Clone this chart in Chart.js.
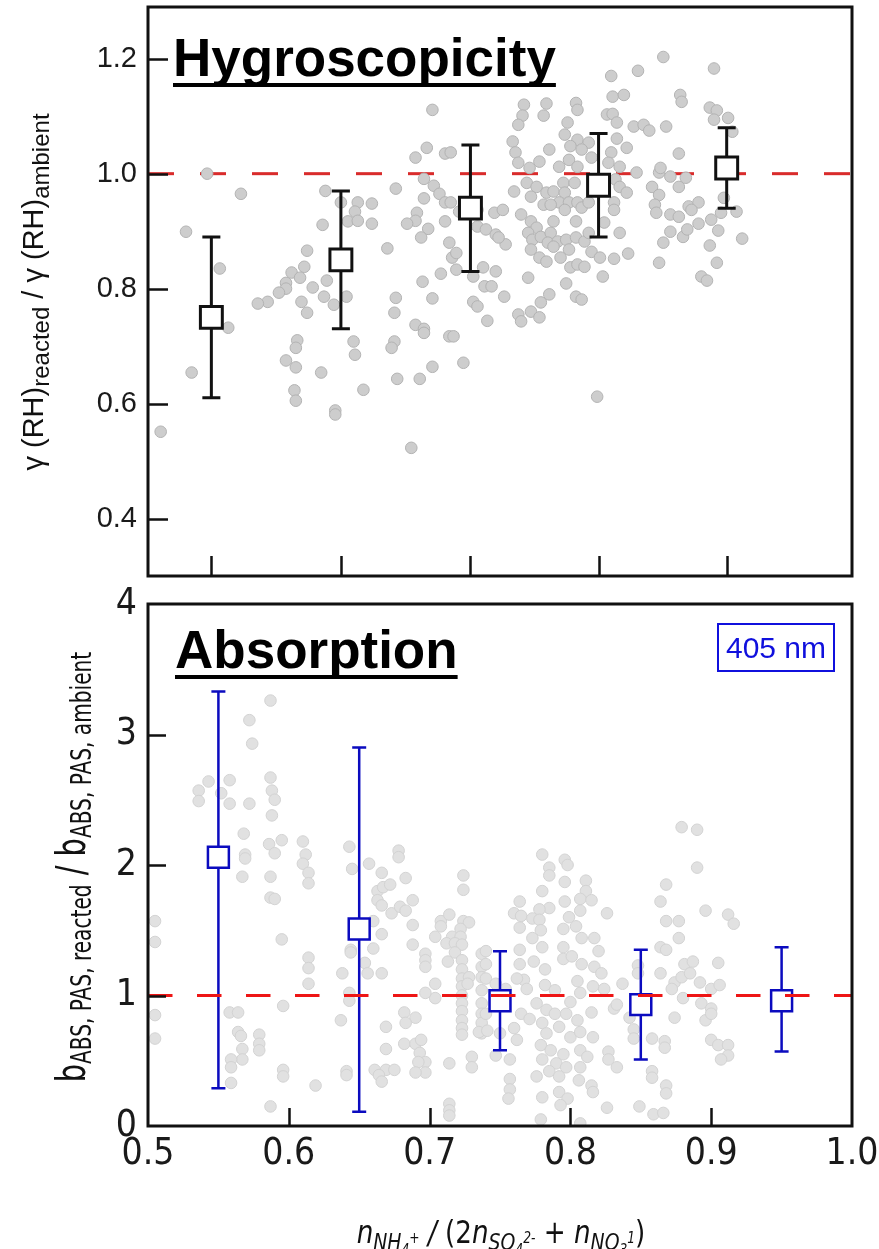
<!DOCTYPE html>
<html>
<head>
<meta charset="utf-8">
<script src="https://cdn.jsdelivr.net/npm/chart.js@4.4.1/dist/chart.umd.min.js"></script>
<style>
  body { margin: 0; background: #fff; }
  #wrap { position: relative; width: 879px; height: 1249px; overflow: hidden; }
  canvas { position: absolute; left: 0; }
</style>
</head>
<body>
<div id="wrap">
  <canvas id="hygro" width="879" height="590" style="top:0"></canvas>
  <canvas id="absorb" width="879" height="689" style="top:560px"></canvas>
</div>
<script>
// ---- top panel: hygroscopicity ----
const topBinX = [0.545, 0.637, 0.729, 0.820, 0.911];
const topMean = [0.75, 0.85, 0.94, 0.98, 1.01];
const topLow  = [0.61, 0.73, 0.83, 0.89, 0.94];
const topHigh = [0.89, 0.97, 1.05, 1.07, 1.08];
const topYTicks = [0.4, 0.6, 0.8, 1.0, 1.2];

const topPoints = [
  [0.702,1.111],[0.698,1.045],[0.711,1.035],[0.690,1.028],[0.542,1.000],[0.566,0.965],[0.626,0.970],[0.676,0.974],
  [0.696,0.991],[0.703,0.979],[0.707,0.965],[0.711,0.950],[0.696,0.957],[0.691,0.932],[0.690,0.918],[0.684,0.913],
  [0.699,0.904],[0.694,0.889],[0.711,0.917],[0.637,0.950],[0.649,0.950],[0.659,0.948],[0.647,0.934],[0.642,0.917],
  [0.649,0.918],[0.659,0.913],[0.624,0.911],[0.527,0.899],[0.670,0.870],[0.714,0.880],[0.716,0.854],[0.708,0.826],
  [0.695,0.812],[0.702,0.783],[0.551,0.835],[0.557,0.732],[0.613,0.866],[0.611,0.838],[0.602,0.828],[0.608,0.819],
  [0.598,0.810],[0.598,0.800],[0.593,0.793],[0.585,0.777],[0.578,0.774],[0.617,0.802],[0.627,0.814],[0.625,0.786],
  [0.632,0.772],[0.641,0.786],[0.609,0.777],[0.613,0.758],[0.676,0.784],[0.675,0.758],[0.690,0.737],[0.696,0.730],
  [0.696,0.723],[0.714,0.717],[0.606,0.710],[0.605,0.697],[0.646,0.708],[0.647,0.685],[0.675,0.708],[0.673,0.697],
  [0.598,0.675],[0.605,0.663],[0.623,0.654],[0.531,0.654],[0.702,0.664],[0.677,0.643],[0.693,0.643],[0.653,0.624],
  [0.604,0.623],[0.605,0.605],[0.633,0.588],[0.633,0.581],[0.509,0.551],[0.687,0.523],
  [0.866,1.203],[0.902,1.183],[0.848,1.179],[0.829,1.170],[0.830,1.134],[0.838,1.137],[0.878,1.137],[0.879,1.125],
  [0.826,1.103],[0.830,1.104],[0.833,1.089],[0.845,1.082],[0.852,1.085],[0.856,1.075],[0.868,1.082],[0.899,1.115],
  [0.904,1.110],[0.902,1.094],[0.912,1.097],[0.915,1.073],[0.767,1.120],[0.783,1.122],[0.766,1.101],[0.781,1.101],
  [0.763,1.085],[0.804,1.123],[0.805,1.111],[0.798,1.089],[0.796,1.068],[0.805,1.059],[0.813,1.054],[0.800,1.048],
  [0.808,1.042],[0.829,1.037],[0.833,1.061],[0.840,1.045],[0.759,1.056],[0.761,1.037],[0.763,1.019],[0.785,1.042],
  [0.778,1.021],[0.771,1.010],[0.792,1.012],[0.799,1.024],[0.805,1.012],[0.815,1.028],[0.827,1.019],[0.835,1.012],
  [0.847,1.002],[0.863,1.002],[0.864,1.010],[0.877,1.035],[0.882,0.993],[0.871,0.995],[0.877,0.977],[0.769,0.984],
  [0.776,0.977],[0.760,0.969],[0.772,0.960],[0.783,0.967],[0.788,0.969],[0.795,0.984],[0.803,0.984],[0.796,0.967],
  [0.792,0.950],[0.799,0.950],[0.805,0.950],[0.781,0.946],[0.786,0.946],[0.796,0.937],[0.808,0.941],[0.813,0.950],
  [0.832,0.990],[0.835,0.977],[0.840,0.967],[0.831,0.950],[0.831,0.937],[0.858,0.977],[0.863,0.963],[0.860,0.946],
  [0.861,0.932],[0.871,0.929],[0.877,0.925],[0.884,0.943],[0.891,0.950],[0.886,0.937],[0.900,0.920],[0.909,0.958],
  [0.907,0.932],[0.918,0.934],[0.721,0.934],[0.734,0.937],[0.746,0.932],[0.752,0.937],[0.734,0.908],[0.740,0.903],
  [0.747,0.894],[0.754,0.877],[0.749,0.889],[0.765,0.929],[0.772,0.917],[0.776,0.906],[0.770,0.897],[0.773,0.885],
  [0.779,0.890],[0.788,0.917],[0.786,0.897],[0.784,0.880],[0.791,0.882],[0.797,0.885],[0.804,0.889],[0.804,0.917],
  [0.810,0.882],[0.813,0.897],[0.824,0.915],[0.772,0.868],[0.778,0.854],[0.783,0.847],[0.788,0.873],[0.793,0.854],
  [0.799,0.868],[0.800,0.837],[0.805,0.842],[0.810,0.838],[0.815,0.864],[0.821,0.854],[0.831,0.852],[0.835,0.897],
  [0.841,0.861],[0.823,0.821],[0.863,0.845],[0.866,0.880],[0.871,0.899],[0.880,0.890],[0.883,0.903],[0.891,0.913],
  [0.899,0.875],[0.905,0.901],[0.904,0.845],[0.893,0.821],[0.897,0.814],[0.922,0.887],[0.719,0.862],[0.719,0.833],
  [0.731,0.821],[0.738,0.837],[0.747,0.830],[0.739,0.804],[0.744,0.804],[0.753,0.786],[0.731,0.777],[0.734,0.769],
  [0.741,0.744],[0.763,0.755],[0.765,0.743],[0.772,0.760],[0.778,0.750],[0.779,0.776],[0.785,0.790],[0.770,0.819],
  [0.797,0.809],[0.804,0.786],[0.808,0.781],[0.717,0.717],[0.724,0.671],[0.819,0.612],[0.715,1.037],[0.715,0.950]
];

// ---- bottom panel: absorption ----
const botBinX = [0.55, 0.65, 0.75, 0.85, 0.95];
const botMean = [2.06, 1.51, 0.96, 0.93, 0.96];
const botLow  = [0.29, 0.11, 0.58, 0.51, 0.57];
const botHigh = [3.33, 2.90, 1.34, 1.35, 1.37];
const botYTicks = [0, 1, 2, 3, 4];
const botXTicks = [0.5, 0.6, 0.7, 0.8, 0.9, 1.0];

const botPoints = [
  [0.587,3.26],[0.572,3.11],[0.574,2.93],[0.536,2.57],[0.543,2.64],[0.536,2.49],[0.552,2.55],[0.558,2.65],
  [0.558,2.47],[0.572,2.47],[0.587,2.67],[0.588,2.57],[0.590,2.50],[0.588,2.38],[0.568,2.24],[0.569,2.08],
  [0.569,2.05],[0.567,1.91],[0.586,2.16],[0.590,2.09],[0.595,2.19],[0.587,1.91],[0.587,1.75],[0.590,1.74],
  [0.610,2.18],[0.612,2.08],[0.610,2.01],[0.614,1.94],[0.614,1.86],[0.505,1.57],[0.505,1.41],[0.595,1.43],
  [0.614,1.29],[0.614,1.21],[0.614,1.09],[0.505,0.85],[0.505,0.67],[0.558,0.87],[0.564,0.87],[0.596,0.92],
  [0.564,0.72],[0.566,0.69],[0.567,0.59],[0.567,0.51],[0.559,0.51],[0.559,0.45],[0.579,0.70],[0.579,0.63],
  [0.579,0.58],[0.559,0.33],[0.596,0.43],[0.596,0.38],[0.619,0.31],[0.587,0.15],[0.643,2.14],[0.645,1.97],
  [0.657,2.01],[0.678,2.11],[0.678,2.06],[0.666,1.94],[0.683,1.90],[0.663,1.80],[0.667,1.83],[0.672,1.85],
  [0.663,1.73],[0.666,1.69],[0.673,1.63],[0.679,1.68],[0.683,1.65],[0.688,1.73],[0.688,1.54],[0.688,1.39],
  [0.660,1.57],[0.666,1.47],[0.660,1.36],[0.644,1.35],[0.644,1.33],[0.654,1.25],[0.656,1.17],[0.666,1.17],
  [0.638,1.17],[0.643,1.02],[0.643,0.96],[0.637,0.81],[0.669,0.76],[0.682,0.87],[0.690,0.83],[0.683,0.79],
  [0.669,0.59],[0.682,0.63],[0.690,0.63],[0.694,0.66],[0.693,0.56],[0.697,0.49],[0.692,0.49],[0.697,0.41],
  [0.690,0.41],[0.661,0.43],[0.669,0.43],[0.675,0.43],[0.664,0.39],[0.666,0.34],[0.641,0.42],[0.641,0.39],
  [0.697,1.32],[0.697,1.27],[0.697,1.22],[0.704,1.45],[0.708,1.57],[0.708,1.53],[0.714,1.62],[0.724,1.92],
  [0.724,1.81],[0.724,1.57],[0.728,1.56],[0.722,1.51],[0.716,1.45],[0.712,1.40],[0.722,1.45],[0.718,1.40],
  [0.723,1.39],[0.718,1.33],[0.713,1.26],[0.723,1.27],[0.723,1.20],[0.723,1.13],[0.728,1.14],[0.723,1.07],
  [0.727,1.09],[0.723,1.00],[0.723,0.94],[0.723,0.88],[0.723,0.81],[0.723,0.75],[0.723,0.70],[0.704,1.09],
  [0.704,0.98],[0.697,1.02],[0.714,0.48],[0.730,0.53],[0.730,0.45],[0.714,0.17],[0.714,0.12],[0.714,0.08],
  [0.737,1.32],[0.737,1.22],[0.737,1.14],[0.737,1.04],[0.737,0.94],[0.737,0.86],[0.737,0.79],[0.737,0.71],
  [0.735,0.72],
  [0.879,2.29],[0.890,2.27],[0.890,1.98],[0.868,1.85],[0.864,1.72],[0.896,1.65],[0.912,1.62],[0.916,1.55],
  [0.868,1.57],[0.877,1.57],[0.877,1.44],[0.864,1.37],[0.868,1.35],[0.905,1.25],[0.881,1.24],[0.887,1.26],
  [0.864,1.17],[0.848,1.23],[0.848,1.17],[0.874,1.10],[0.879,1.14],[0.885,1.17],[0.892,1.10],[0.900,1.05],
  [0.906,1.08],[0.872,1.05],[0.880,0.98],[0.893,0.94],[0.900,0.90],[0.896,0.81],[0.900,0.86],[0.874,0.83],
  [0.842,0.83],[0.845,0.74],[0.845,0.67],[0.858,0.67],[0.867,0.65],[0.867,0.60],[0.900,0.66],[0.905,0.62],
  [0.912,0.62],[0.912,0.54],[0.907,0.51],[0.858,0.42],[0.858,0.37],[0.868,0.31],[0.868,0.25],[0.849,0.15],
  [0.859,0.09],[0.866,0.10],[0.826,0.14],[0.833,0.45],[0.827,0.57],[0.827,0.51],[0.837,1.09],[0.831,0.90],
  [0.833,0.93],[0.826,1.63],
  [0.780,2.08],[0.785,1.98],[0.785,1.92],[0.796,2.04],[0.798,2.00],[0.796,1.87],[0.811,1.88],[0.811,1.80],
  [0.807,1.74],[0.815,1.73],[0.780,1.80],[0.764,1.72],[0.785,1.67],[0.778,1.66],[0.760,1.63],[0.765,1.61],
  [0.773,1.59],[0.778,1.58],[0.796,1.72],[0.799,1.60],[0.807,1.65],[0.764,1.52],[0.779,1.50],[0.795,1.51],
  [0.804,1.53],[0.808,1.44],[0.817,1.44],[0.773,1.44],[0.780,1.37],[0.795,1.37],[0.764,1.35],[0.764,1.24],
  [0.740,1.34],[0.740,1.24],[0.774,1.26],[0.795,1.28],[0.801,1.30],[0.808,1.24],[0.820,1.34],[0.817,1.22],
  [0.782,1.20],[0.805,1.11],[0.822,1.17],[0.824,1.05],[0.767,1.12],[0.762,1.13],[0.740,1.13],[0.747,1.09],
  [0.754,1.05],[0.769,1.05],[0.782,1.08],[0.789,1.04],[0.800,0.95],[0.807,1.02],[0.816,1.07],[0.776,0.94],
  [0.783,0.89],[0.789,0.86],[0.797,0.86],[0.805,0.81],[0.815,0.87],[0.765,0.86],[0.771,0.82],[0.740,0.86],
  [0.741,0.73],[0.750,0.71],[0.760,0.75],[0.762,0.66],[0.747,0.54],[0.757,0.51],[0.780,0.79],[0.783,0.71],
  [0.792,0.76],[0.800,0.68],[0.807,0.72],[0.816,0.68],[0.779,0.62],[0.786,0.58],[0.795,0.55],[0.780,0.51],
  [0.790,0.48],[0.797,0.45],[0.807,0.58],[0.812,0.53],[0.807,0.45],[0.785,0.42],[0.792,0.38],[0.776,0.38],
  [0.806,0.35],[0.757,0.36],[0.757,0.28],[0.756,0.21],[0.815,0.31],[0.816,0.26],[0.780,0.22],[0.792,0.26],
  [0.798,0.21],[0.793,0.16],[0.779,0.05],[0.807,0.02]
];

const FONT = "'Liberation Sans', Arial, sans-serif";

// the lower panel uses a narrow face; fall back to squeezing the regular one
function findFont(names) {
  const c = document.createElement('canvas').getContext('2d');
  const s = '0.5 ABS, PAS reacted';
  for (const f of names) {
    c.font = "40px '" + f + "', monospace"; const a = c.measureText(s).width;
    c.font = "40px '" + f + "', serif"; const b = c.measureText(s).width;
    if (Math.abs(a - b) < 0.5) return f;
  }
  return null;
}
const narrowName = findFont(['Liberation Sans Narrow', 'Arial Narrow', 'DejaVu Sans Condensed', 'Roboto Condensed']);
const NARROW = narrowName ? "'" + narrowName + "', " + FONT : FONT;
const Y_SQUEEZE = narrowName ? 0.8 : 0.7;
const X_SQUEEZE = narrowName ? 0.91 : 0.8;
const botTickSize = narrowName ? 37 : 33;

// draw a run of text pieces, each with its own font and baseline shift
function drawRuns(ctx, runs, x, y, rotate, sx) {
  ctx.save();
  ctx.translate(x, y);
  if (rotate) ctx.rotate(-Math.PI / 2);
  ctx.scale(sx || 1, 1);
  ctx.textBaseline = 'alphabetic';
  ctx.textAlign = 'left';
  let total = 0;
  runs.forEach(r => { ctx.font = r.f; r.w = ctx.measureText(r.t).width; total += r.w; });
  let cx = -total / 2;
  runs.forEach(r => {
    ctx.font = r.f;
    ctx.fillStyle = '#111';
    ctx.fillText(r.t, cx, r.dy || 0);
    cx += r.w;
  });
  ctx.restore();
}

function panelPlugin(cfg) {
  return {
    id: 'panel_' + cfg.name,
    afterDatasetDraw(chart, args) {
      if (args.index !== cfg.errIndex) return;
      const ctx = chart.ctx, xs = chart.scales.x, ys = chart.scales.y;
      ctx.save();
      ctx.strokeStyle = cfg.errColor;
      ctx.lineWidth = cfg.errWidth;
      cfg.binX.forEach((bx, i) => {
        const px = xs.getPixelForValue(bx);
        const lo = ys.getPixelForValue(cfg.low[i]);
        const hi = ys.getPixelForValue(cfg.high[i]);
        ctx.beginPath();
        ctx.moveTo(px, lo); ctx.lineTo(px, hi);
        ctx.moveTo(px - cfg.cap, lo); ctx.lineTo(px + cfg.cap, lo);
        ctx.moveTo(px - cfg.cap, hi); ctx.lineTo(px + cfg.cap, hi);
        ctx.stroke();
      });
      ctx.restore();
    },
    afterDraw(chart) {
      const ctx = chart.ctx, a = chart.chartArea;
      const xs = chart.scales.x, ys = chart.scales.y;
      ctx.save();
      ctx.strokeStyle = '#111';
      ctx.lineWidth = 2.5;
      ctx.beginPath();
      cfg.yMarks.forEach(v => {
        const p = Math.round(ys.getPixelForValue(v)) + 0.5;
        ctx.moveTo(a.left, p); ctx.lineTo(a.left + cfg.tickLen, p);
      });
      cfg.xMarks.forEach(v => {
        const p = Math.round(xs.getPixelForValue(v)) + 0.5;
        ctx.moveTo(p, a.bottom); ctx.lineTo(p, a.bottom - cfg.tickLen);
      });
      ctx.stroke();
      ctx.lineWidth = 3;
      ctx.strokeRect(a.left, a.top, a.right - a.left, a.bottom - a.top);
      ctx.restore();
      cfg.texts(ctx, chart);
    }
  };
}

function underlinedLabel(ctx, text, x, y, lineY) {
  ctx.save();
  ctx.font = 'bold 53px ' + FONT;
  ctx.fillStyle = '#000';
  ctx.textBaseline = 'alphabetic';
  ctx.fillText(text, x, y);
  const w = ctx.measureText(text).width;
  ctx.fillRect(x, lineY, w, 4);
  ctx.restore();
}

// keep the plot frame where the layout padding puts it
function noEdgePadding(s) {
  s.paddingTop = 0; s.paddingBottom = 0; s.paddingLeft = 0; s.paddingRight = 0;
}

const noInteract = { legend: { display: false }, tooltip: { enabled: false } };

// ---- top chart ----
new Chart(document.getElementById('hygro'), {
  type: 'scatter',
  data: {
    datasets: [
      {
        data: topBinX.map((x, i) => ({ x: x, y: topMean[i] })),
        pointStyle: 'rect', pointRadius: 15.5, pointBorderWidth: 3,
        pointBackgroundColor: '#fff', pointBorderColor: '#111'
      },
      {
        data: topPoints.map(p => ({ x: p[0], y: p[1] })),
        pointRadius: 5.8, pointBorderWidth: 1,
        pointBackgroundColor: '#cdcdcd', pointBorderColor: '#b3b3b3'
      },
      {
        data: [{ x: 0.5, y: 1.0 }, { x: 1.0, y: 1.0 }],
        showLine: true, pointRadius: 0, borderWidth: 3,
        borderColor: '#d92b2b', borderDash: [26, 26]
      }
    ]
  },
  options: {
    responsive: false, animation: false, devicePixelRatio: 1,
    layout: { autoPadding: false, padding: { left: 0, right: 27, top: 7, bottom: 0 } },
    plugins: noInteract,
    scales: {
      x: {
        type: 'linear', min: 0.5, max: 1.0,
        grid: { display: false, drawTicks: false }, border: { display: false },
        ticks: { display: false },
        afterFit: s => { s.height = 14; noEdgePadding(s); }
      },
      y: {
        type: 'linear', min: 0.3, max: 1.29,
        grid: { display: false, drawTicks: false }, border: { display: false },
        afterBuildTicks: s => { s.ticks = topYTicks.map(v => ({ value: v })); },
        ticks: {
          padding: 11, color: '#1a1a1a', font: { family: FONT, size: 29 },
          callback: v => v.toFixed(1)
        },
        afterFit: s => { s.width = 148; noEdgePadding(s); }
      }
    }
  },
  plugins: [panelPlugin({
    name: 'top', errIndex: 1, errColor: '#111', errWidth: 3, cap: 9,
    binX: topBinX, low: topLow, high: topHigh,
    yMarks: topYTicks, xMarks: topBinX, tickLen: 20,
    texts: (ctx) => {
      underlinedLabel(ctx, 'Hygroscopicity', 173, 76, 83);
      drawRuns(ctx, [
        { t: '\u03b3 (RH)', f: '29px ' + FONT },
        { t: 'reacted', f: '24px ' + FONT, dy: 6 },
        { t: ' / \u03b3 (RH)', f: '29px ' + FONT },
        { t: 'ambient', f: '24px ' + FONT, dy: 6 }
      ], 43, 292, true);
    }
  })]
});

// ---- bottom chart ----
const BOT_TOP = 560;
new Chart(document.getElementById('absorb'), {
  type: 'scatter',
  data: {
    datasets: [
      {
        data: [{ x: 0.5, y: 1.0 }, { x: 1.0, y: 1.0 }],
        showLine: true, pointRadius: 0, borderWidth: 3,
        borderColor: '#ee1515', borderDash: [24.5, 24.5]
      },
      {
        data: botBinX.map((x, i) => ({ x: x, y: botMean[i] })),
        pointStyle: 'rect', pointRadius: 14.8, pointBorderWidth: 2.5,
        pointBackgroundColor: '#fff', pointBorderColor: '#0b0bbf'
      },
      {
        data: botPoints.map(p => ({ x: p[0], y: p[1] })),
        pointRadius: 5.8, pointBorderWidth: 1,
        pointBackgroundColor: '#e1e1e1', pointBorderColor: '#d3d3d3'
      }
    ]
  },
  options: {
    responsive: false, animation: false, devicePixelRatio: 1,
    layout: { autoPadding: false, padding: { left: 0, right: 27, top: 604 - BOT_TOP, bottom: 0 } },
    plugins: noInteract,
    scales: {
      x: {
        type: 'linear', min: 0.5, max: 1.0,
        grid: { display: false, drawTicks: false }, border: { display: false },
        afterBuildTicks: s => { s.ticks = botXTicks.map(v => ({ value: v })); },
        ticks: {
          padding: 6, color: '#1a1a1a', font: { family: NARROW, size: botTickSize },
          autoSkip: false, maxRotation: 0, callback: v => v.toFixed(1)
        },
        afterFit: s => { s.height = 689 - (1126 - BOT_TOP); noEdgePadding(s); }
      },
      y: {
        type: 'linear', min: 0, max: 4,
        grid: { display: false, drawTicks: false }, border: { display: false },
        afterBuildTicks: s => { s.ticks = botYTicks.map(v => ({ value: v })); },
        ticks: {
          padding: 11, color: '#1a1a1a', font: { family: NARROW, size: botTickSize },
          callback: v => String(v)
        },
        afterFit: s => { s.width = 148; noEdgePadding(s); }
      }
    }
  },
  plugins: [panelPlugin({
    name: 'bottom', errIndex: 2, errColor: '#0b0bbf', errWidth: 2.5, cap: 7,
    binX: botBinX, low: botLow, high: botHigh,
    yMarks: botYTicks.slice(1, 4), xMarks: botXTicks.slice(1, 5), tickLen: 18,
    texts: (ctx) => {
      underlinedLabel(ctx, 'Absorption', 175, 668 - BOT_TOP, 675 - BOT_TOP);
      // wavelength box
      ctx.save();
      ctx.strokeStyle = '#1010dd';
      ctx.lineWidth = 2;
      ctx.strokeRect(718, 624 - BOT_TOP, 116, 47);
      ctx.fillStyle = '#1010dd';
      ctx.font = '30px ' + FONT;
      ctx.textAlign = 'center';
      ctx.textBaseline = 'alphabetic';
      ctx.fillText('405 nm', 776, 658 - BOT_TOP);
      ctx.restore();
      drawRuns(ctx, [
        { t: 'b', f: '40px ' + NARROW },
        { t: 'ABS, PAS, reacted', f: '28px ' + NARROW, dy: 6 },
        { t: ' / b', f: '40px ' + NARROW },
        { t: 'ABS, PAS, ambient', f: '28px ' + NARROW, dy: 6 }
      ], 85, 867 - BOT_TOP, true, Y_SQUEEZE);
      const it = 'italic 32px ' + NARROW, up = '32px ' + NARROW;
      const its = 'italic 23px ' + NARROW, itx = 'italic 15px ' + NARROW;
      drawRuns(ctx, [
        { t: 'n', f: it }, { t: 'NH', f: its, dy: 7 }, { t: '4', f: itx, dy: 12 }, { t: '+', f: itx, dy: 0 },
        { t: ' / ', f: it }, { t: '(2', f: up }, { t: 'n', f: it }, { t: 'SO', f: its, dy: 7 },
        { t: '4', f: itx, dy: 12 }, { t: '2-', f: itx, dy: 0 }, { t: ' + ', f: up }, { t: 'n', f: it },
        { t: 'NO', f: its, dy: 7 }, { t: '3', f: itx, dy: 12 }, { t: '1', f: itx, dy: 0 }, { t: ')', f: up }
      ], 501, 1243 - BOT_TOP, false, X_SQUEEZE);
    }
  })]
});
</script>
</body>
</html>
